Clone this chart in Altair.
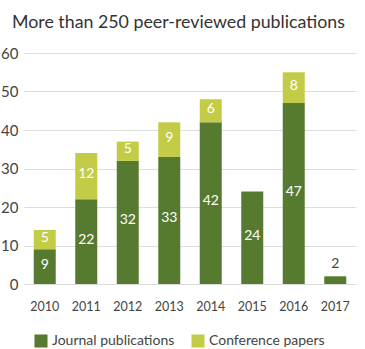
import altair as alt
import pandas as pd

years = ["2010", "2011", "2012", "2013", "2014", "2015", "2016", "2017"]
journal = [9, 22, 32, 33, 42, 24, 47, 2]
conference = [5, 12, 5, 9, 6, 0, 8, 0]
series = ["Journal publications", "Conference papers"]
colors = ["#567a30", "#c3cc47"]

rows = []
for y, j, c in zip(years, journal, conference):
    rows.append({"year": y, "series": series[0], "value": j, "start": 0, "end": j})
    rows.append({"year": y, "series": series[1], "value": c, "start": j, "end": j + c})
df = pd.DataFrame(rows)
df = df[df["value"] > 0]
df["mid"] = (df["start"] + df["end"]) / 2
inside = df[df["value"] >= 4]
outside = df[df["value"] < 4]

font = "Lato"

xaxis = alt.Axis(labelAngle=0, ticks=False, domain=False, labelPadding=16,
                 labelFontSize=12.5, labelColor="#444", labelFont=font)
xscale = alt.Scale(paddingInner=0.47, paddingOuter=0.235)
yaxis = alt.Axis(values=[0, 10, 20, 30, 40, 50, 60], ticks=False, domain=False,
                 labelOverlap=False, labelFontSize=15, labelColor="#444", labelPadding=6,
                 gridColor="#dddddd", labelFont=font)
yscale = alt.Scale(domain=[0, 60])

bars = alt.Chart(df).mark_bar().encode(
    x=alt.X("year:N", title=None, sort=years, scale=xscale, axis=xaxis),
    y=alt.Y("start:Q", title=None, scale=yscale, axis=yaxis),
    y2="end:Q",
    color=alt.Color("series:N", sort=series,
                    scale=alt.Scale(domain=series, range=colors),
                    legend=alt.Legend(title=None, orient="none", direction="horizontal",
                                      legendX=10, legendY=281,
                                      symbolType="square", symbolSize=170,
                                      symbolStrokeWidth=0, columnPadding=16,
                                      labelFontSize=14, labelColor="#444", labelFont=font)),
)

text_in = alt.Chart(inside).mark_text(color="white", fontSize=14, font=font, dy=-2).encode(
    x=alt.X("year:N", title=None, sort=years, scale=xscale, axis=xaxis),
    y=alt.Y("mid:Q", title=None, scale=yscale, axis=yaxis),
    text="value:Q",
)

text_out = alt.Chart(outside).mark_text(color="#444", fontSize=14, font=font, dy=-12).encode(
    x=alt.X("year:N", title=None, sort=years, scale=xscale, axis=xaxis),
    y=alt.Y("end:Q", title=None, scale=yscale, axis=yaxis),
    text="value:Q",
)

chart = alt.layer(bars, text_in, text_out).properties(
    width=332, height=231,
    title=alt.Title("More than 250 peer-reviewed publications", anchor="start", frame="group",
                    fontSize=17.8, font=font, fontWeight="normal", color="#333", offset=14,
                    dx=-12),
    padding={"left": 0, "top": 14, "right": 8, "bottom": 0},
).configure_view(stroke=None)

chart.save("out.html", embed_options={"renderer": "svg", "actions": False})
